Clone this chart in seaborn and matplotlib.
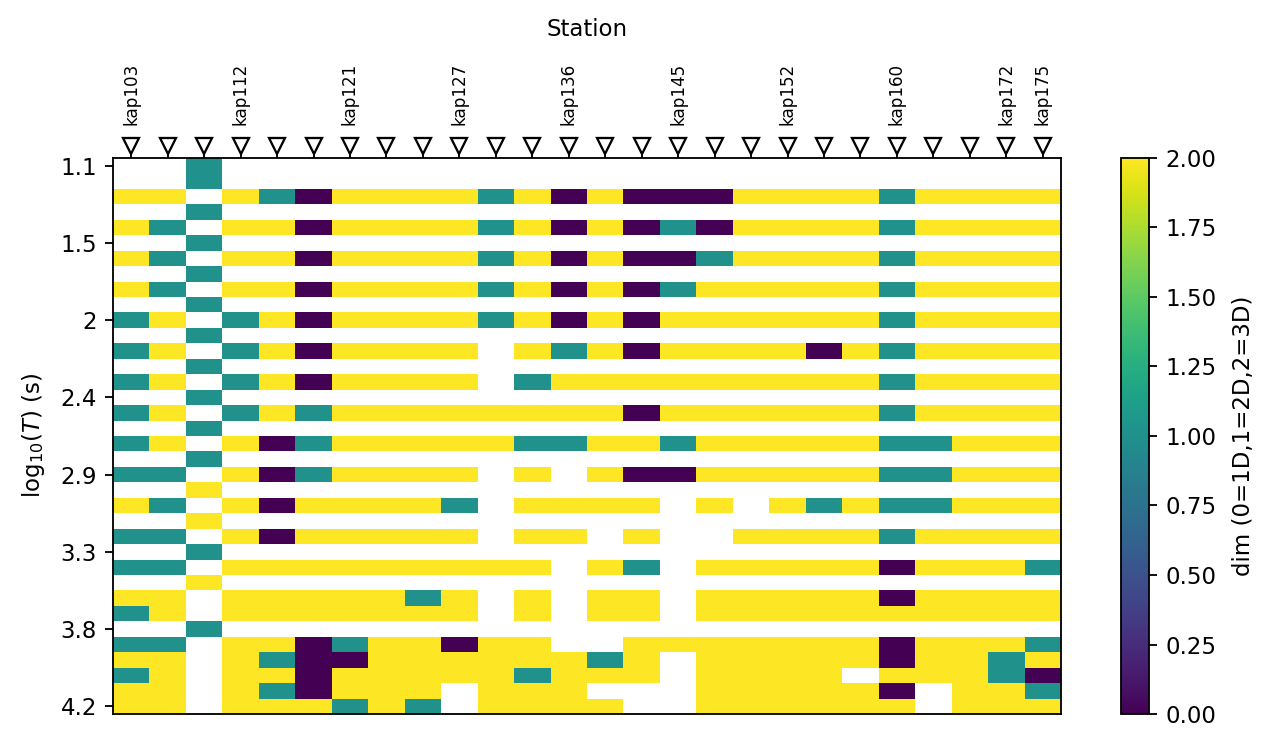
import numpy as np
import pandas as pd
import matplotlib
matplotlib.use('Agg')
import matplotlib.pyplot as plt
import seaborn as sns

# station names shown on top axis ('' = station without a label)
station_labels = ['kap103', '', '', 'kap112', '', '', 'kap121', '', '', 'kap127',
                  '', '', 'kap136', '', '', 'kap145', '', '', 'kap152', '', '',
                  'kap160', '', '', 'kap172', 'kap175']

# labelled period rows (log10 T)
period_tick_rows = [0, 5, 10, 15, 20, 25, 30, 35]
period_tick_labels = ['1.1', '1.5', '2', '2.4', '2.9', '3.3', '3.8', '4.2']

# dimensionality per period (rows) and station (columns); '.' = no data
dim_rows = [
    "..1" "......" "......" "......" ".....",
    "..1" "......" "......" "......" ".....",
    "22.21" "02222" "12020" "00222" "21222" "2",
    "..1" "......" "......" "......" ".....",
    "21.22" "02222" "12020" "10222" "21222" "2",
    "..1" "......" "......" "......" ".....",
    "21.22" "02222" "12020" "01222" "21222" "2",
    "..1" "......" "......" "......" ".....",
    "21.22" "02222" "12020" "12222" "21222" "2",
    "..1" "......" "......" "......" ".....",
    "12.12" "02222" "12020" "22222" "21222" "2",
    "..1" "......" "......" "......" ".....",
    "12.12" "02222" ".2120" "22220" "21222" "2",
    "..1" "......" "......" "......" ".....",
    "12.12" "02222" ".1222" "22222" "21222" "2",
    "..1" "......" "......" "......" ".....",
    "12.12" "12222" "22220" "22222" "21222" "2",
    "..1" "......" "......" "......" ".....",
    "12.20" "12222" "21122" "12222" "21122" "2",
    "..1" "......" "......" "......" ".....",
    "11.20" "12222" ".2.20" "02222" "21122" "2",
    "..2" "......" "......" "......" ".....",
    "21.20" "22221" ".2222" ".2.21" "21122" "2",
    "..2" "......" "......" "......" ".....",
    "11.20" "22222" ".22.2" "..222" "21222" "2",
    "..1" "......" "......" "......" ".....",
    "11.22" "22222" "22.21" ".2222" "20222" "1",
    "..2" "......" "......" "......" ".....",
    "22.22" "22212" ".2.22" ".2222" "20222" "2",
    "12.22" "22222" ".2.22" ".2222" "22222" "2",
    "..1" "......" "......" "......" ".....",
    "11.22" "01220" "22..2" "22222" "20222" "1",
    "22.21" "00222" "22212" ".2222" "20221" "2",
    "12.22" "02222" "21222" ".2222" ".2221" "0",
    "22.21" "0222." "222.." ".2222" "20.22" "1",
    "22.22" "2121." "2222." ".2222" "22.22" "2",
]

cbar_ticks = [0, 0.25, 0.5, 0.75, 1.0, 1.25, 1.5, 1.75, 2.0]

dims = pd.DataFrame([[np.nan if c == '.' else float(c) for c in row] for row in dim_rows])

W, H, DPI = 1274, 746, 165
fig = plt.figure(figsize=(W / DPI, H / DPI), dpi=DPI)
ax = fig.add_axes([113 / W, 1 - 714 / H, (1061 - 113) / W, (714 - 158) / H])
cax = fig.add_axes([1121 / W, 1 - 714 / H, 28 / W, (714 - 158) / H])

sns.heatmap(dims, ax=ax, cbar_ax=cax, cmap='viridis', vmin=0, vmax=2,
            xticklabels=station_labels, yticklabels=False,
            cbar_kws={'label': 'dim (0=1D,1=2D,2=3D)', 'ticks': cbar_ticks, 'format': '%.2f'})

# frame around heatmap and colorbar
for sp in ax.spines.values():
    sp.set_visible(True)
    sp.set_color('black')
    sp.set_linewidth(0.8)
cb = ax.collections[0].colorbar
cb.outline.set_linewidth(0.8)
cb.outline.set_edgecolor('black')

# y axis
ax.set_yticks(np.array(period_tick_rows) + 0.5)
ax.set_yticklabels(period_tick_labels, rotation=0, fontsize=10)
ax.tick_params(axis='y', left=True, length=3.5)
ax.set_ylabel(r'log$_{10}$($T$) (s)', fontsize=10, labelpad=6)

# x axis on top with station triangles
ax.set_xticks(np.arange(len(station_labels)) + 0.5)
ax.set_xticklabels(station_labels, rotation=90, fontsize=7.3)
ax.xaxis.tick_top()
ax.xaxis.set_label_position('top')
ax.tick_params(axis='x', top=True, bottom=False, labeltop=True, labelbottom=False,
               length=3.5, pad=11)
ax.set_xlabel('Station', fontsize=10, labelpad=11.5)

ax.plot(np.arange(len(station_labels)) + 0.5, [1.022] * len(station_labels),
        transform=ax.get_xaxis_transform(), ls='none', marker='v', ms=7,
        mfc='white', mec='black', mew=1.0, clip_on=False, zorder=5)

cax.tick_params(labelsize=10)
cb.set_label('dim (0=1D,1=2D,2=3D)', fontsize=10, labelpad=7)

fig.savefig('out.png', dpi=DPI)
